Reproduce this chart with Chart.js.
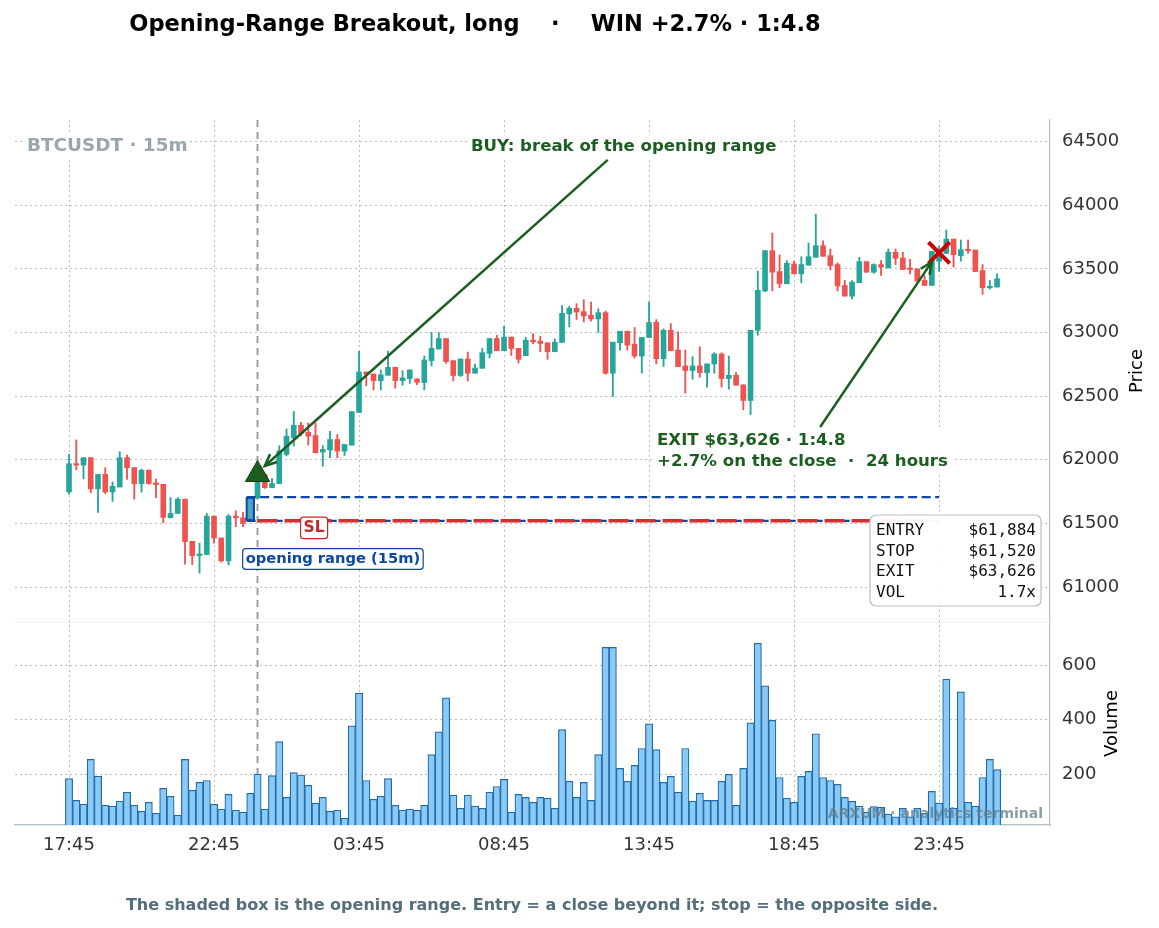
<!DOCTYPE html>
<html>
<head>
<meta charset="utf-8">
<script src="https://cdn.jsdelivr.net/npm/chart.js@4.4.1/dist/chart.umd.min.js"></script>
<style>
  html, body { margin: 0; padding: 0; background: #fff; }
  #wrap { width: 1159px; height: 928px; }
</style>
</head>
<body>
<div id="wrap"><canvas id="chart"></canvas></div>
<script>
// 15m candles, index 0 = 17:45
const opens = [61747,61969,61958,62016,61771,61885,61747,61786,62016,61938,61813,61917,61818,61807,61544,61578,61690,61359,61247,61255,
  61557,61385,61206,61557,61544,61525,61700,61884,61781,61813,62042,62172,62271,62216,62190,62060,62076,62159,62068,62115,
  62372,62690,62674,62622,62664,62727,62622,62638,62635,62607,62779,62870,62953,62779,62662,62792,62680,62719,62836,62953,
  62857,62964,62875,62818,62940,62932,62919,62849,62922,63146,63190,63164,63135,63107,63156,62680,62919,63010,62909,62815,
  62961,63080,62794,63018,62862,62737,62701,62737,62685,62753,62831,62638,62664,62589,62466,63018,63326,63643,63479,63383,
  63539,63461,63529,63591,63682,63604,63534,63370,63286,63391,63557,63474,63534,63508,63630,63586,63505,63500,63409,63370,
  63560,63622,63734,63604,63651,63648,63487,63352,63357];
const highs = [62042,62156,62016,62016,61885,61938,61826,62063,62036,61938,61927,61922,61849,61807,61703,61703,61690,61359,61344,61578,
  61557,61385,61570,61599,61586,61707,61900,61890,61852,62110,62242,62380,62294,62289,62289,62112,62224,62198,62120,62378,
  62852,62690,62674,62706,62854,62727,62700,62706,62635,62815,63000,63000,62953,62779,62792,62846,62750,62875,62953,62979,
  63050,62964,62875,62961,62992,62971,62919,62950,63211,63206,63227,63258,63240,63187,63169,62924,63010,63010,63039,62961,
  63240,63102,63029,63070,63005,62862,62810,62888,62753,62841,62841,62815,62685,62589,63018,63482,63643,63781,63609,63565,
  63560,63596,63703,63930,63721,63656,63547,63409,63409,63591,63557,63540,63565,63656,63656,63630,63576,63500,63448,63638,
  63680,63805,63734,63727,63727,63648,63534,63409,63461];
const lows = [61729,61922,61849,61740,61586,61734,61672,61786,61846,61690,61745,61807,61703,61505,61544,61578,61180,61175,61109,61255,
  61344,61195,61172,61474,61474,61519,61690,61775,61781,61813,62030,62107,62190,62115,62055,61950,62016,62016,62034,62115,
  62372,62581,62549,62549,62664,62562,62586,62600,62590,62549,62737,62870,62758,62620,62655,62620,62680,62719,62800,62857,
  62857,62820,62760,62818,62910,62849,62789,62849,62922,63044,63102,63083,63090,63000,62672,62497,62862,62862,62799,62680,
  62961,62753,62732,62857,62732,62523,62633,62648,62570,62680,62570,62555,62586,62393,62354,62979,63320,63326,63352,63383,
  63461,63391,63529,63591,63599,63492,63326,63286,63263,63391,63474,63465,63448,63508,63534,63495,63461,63404,63370,63370,
  63480,63622,63513,63560,63622,63479,63300,63340,63357];
const closes = [61969,61958,62016,61771,61885,61747,61792,62016,61938,61813,61917,61813,61805,61547,61578,61690,61357,61247,61260,61557,
  61385,61206,61557,61544,61500,61690,61884,61781,61813,62070,62185,62271,62206,62185,62055,62081,62159,62068,62120,62378,
  62690,62672,62622,62667,62727,62622,62643,62706,62609,62784,62875,62953,62771,62662,62792,62680,62721,62841,62953,62857,
  62964,62875,62789,62940,62927,62914,62849,62924,63151,63190,63161,63130,63107,63156,62680,62924,63010,62901,62815,62961,
  63078,62794,63018,62857,62732,62701,62737,62685,62753,62831,62638,62664,62586,62466,63018,63331,63643,63474,63383,63544,
  63461,63534,63596,63682,63599,63526,63365,63286,63396,63557,63474,63534,63513,63630,63583,63495,63495,63404,63370,63638,
  63626,63734,63612,63651,63643,63479,63352,63362,63422];
const volumes = [185,105,91,255,194,87,84,102,135,87,65,98,58,149,120,51,255,142,171,178,
  91,73,127,69,62,131,201,73,196,320,116,207,198,160,95,116,65,69,40,378,
  498,178,109,120,185,87,69,73,69,87,273,356,480,124,76,124,84,76,135,156,
  182,62,127,116,98,116,113,76,364,175,116,171,105,273,665,665,222,175,233,295,
  385,291,171,193,135,295,102,131,105,105,175,200,87,222,389,680,524,398,189,113,
  98,193,211,349,189,178,164,116,102,84,62,82,80,55,45,76,45,76,58,138,
  95,549,76,502,98,84,189,255,218];

const timeTickIdx = [0, 20, 40, 60, 80, 100, 120];
const timeLabels = ['17:45', '22:45', '03:45', '08:45', '13:45', '18:45', '23:45'];
const priceTicks = [61000, 61500, 62000, 62500, 63000, 63500, 64000, 64500];
const volumeTicks = [200, 400, 600];

const orIdx = 25;          // the opening-range candle
const orHigh = 61707;
const orLow = 61519;
const entryIdx = 26;
const entryPrice = 61884;
const stopPrice = 61520;
const exitIdx = 120;
const exitPrice = 63626;

const infoLabels = ['ENTRY', 'STOP', 'EXIT', 'VOL'];
const infoValues = ['$61,884', '$61,520', '$63,626', '1.7x'];

const UP = '#26a69a';
const DOWN = '#ef5350';
const GREEN = '#1b5e20';
const FONT = 'DejaVu Sans';

Chart.defaults.font.family = FONT;

const candleColors = closes.map((c, i) => c >= opens[i] ? UP : DOWN);

function boxText(ctx, lines, cx, cy, o) {
  ctx.font = o.font;
  const lh = o.lineHeight || 0;
  const w = Math.max(...lines.map(t => ctx.measureText(t).width));
  const h = lh * (lines.length - 1) + o.size;
  let left = o.align === 'left' ? cx : cx - w / 2;
  if (o.bg || o.border) {
    const p = o.pad || 3;
    ctx.beginPath();
    ctx.roundRect(left - p, cy - h / 2 - p, w + 2 * p, h + 2 * p, o.radius || 0);
    if (o.bg) { ctx.fillStyle = o.bg; ctx.fill(); }
    if (o.border) { ctx.strokeStyle = o.border; ctx.lineWidth = 1.2; ctx.stroke(); }
  }
  ctx.fillStyle = o.color;
  ctx.textAlign = 'left';
  ctx.textBaseline = 'middle';
  lines.forEach((t, k) => {
    const tw = ctx.measureText(t).width;
    const x = o.align === 'left' ? left : cx - tw / 2;
    ctx.fillText(t, x, cy - h / 2 + o.size / 2 + k * lh);
  });
}

function arrow(ctx, x1, y1, x2, y2, color) {
  ctx.save();
  ctx.strokeStyle = color;
  ctx.lineWidth = 2.5;
  ctx.setLineDash([]);
  ctx.beginPath();
  ctx.moveTo(x1, y1);
  ctx.lineTo(x2, y2);
  ctx.stroke();
  const a = Math.atan2(y2 - y1, x2 - x1), L = 13;
  ctx.beginPath();
  ctx.moveTo(x2 - L * Math.cos(a - 0.42), y2 - L * Math.sin(a - 0.42));
  ctx.lineTo(x2, y2);
  ctx.lineTo(x2 - L * Math.cos(a + 0.42), y2 - L * Math.sin(a + 0.42));
  ctx.stroke();
  ctx.restore();
}

const overlay = {
  id: 'overlay',
  beforeDatasetsDraw(chart) {
    const { ctx, chartArea: a, scales: { x, y } } = chart;
    ctx.save();
    // faint panel separator
    ctx.strokeStyle = '#eceff1';
    ctx.lineWidth = 1;
    ctx.beginPath();
    ctx.moveTo(a.left, y.bottom + 0.5);
    ctx.lineTo(a.right, y.bottom + 0.5);
    ctx.stroke();
    // session start
    const px = x.getPixelForValue(entryIdx);
    ctx.strokeStyle = '#9e9e9e';
    ctx.lineWidth = 2;
    ctx.setLineDash([7, 5]);
    ctx.beginPath();
    ctx.moveTo(px, a.top);
    ctx.lineTo(px, a.bottom);
    ctx.stroke();
    ctx.restore();
  },
  afterDatasetsDraw(chart) {
    const { ctx, chartArea: a, scales: { x, y, y2 } } = chart;
    const X = v => x.getPixelForValue(v);
    const Y = v => y.getPixelForValue(v);
    ctx.save();

    // title + caption
    ctx.fillStyle = '#000';
    ctx.font = `bold 22.5px ${FONT}`;
    ctx.textAlign = 'center';
    ctx.textBaseline = 'middle';
    ctx.fillText('Opening-Range Breakout, long    \u00b7    WIN +2.7% \u00b7 1:4.8', 475, 25);
    ctx.fillStyle = '#546e7a';
    ctx.font = `bold 16px ${FONT}`;
    ctx.fillText('The shaded box is the opening range. Entry = a close beyond it; stop = the opposite side.', 532, 906);

    // axis titles
    ctx.fillStyle = '#000';
    ctx.font = `18px ${FONT}`;
    ctx.save();
    ctx.translate(a.right + 87, (y.top + y.bottom) / 2);
    ctx.rotate(-Math.PI / 2);
    ctx.fillText('Price', 0, 0);
    ctx.restore();
    ctx.save();
    ctx.translate(a.right + 62, (y2.top + y2.bottom) / 2);
    ctx.rotate(-Math.PI / 2);
    ctx.fillText('Volume', 0, 0);
    ctx.restore();

    // symbol tag
    ctx.font = `bold 18.4px ${FONT}`;
    const tag = 'BTCUSDT \u00b7 15m';
    const tw = ctx.measureText(tag).width;
    ctx.fillStyle = '#fff';
    ctx.fillRect(a.left + 10, y.top + 15, tw + 4, 22);
    ctx.textAlign = 'left';
    ctx.fillStyle = '#9aa6ae';
    ctx.fillText(tag, a.left + 12, y.top + 26);

    // watermark
    ctx.textAlign = 'right';
    ctx.fillStyle = 'rgba(96,125,139,0.75)';
    ctx.font = `bold 14px ${FONT}`;
    ctx.fillText('ARXUM \u00b7 analytics terminal', a.right - 7, a.bottom - 11);

    // annotations
    arrow(ctx, X(74.3), Y(64357), X(27.0), Y(61951), GREEN);
    boxText(ctx, ['BUY: break of the opening range'], X(76.5), Y(64459),
      { font: `bold 16.6px ${FONT}`, size: 16.6, color: GREEN, bg: '#fff', pad: 3 });

    arrow(ctx, X(103.6), Y(62258), X(119.0), Y(63555), GREEN);
    boxText(ctx, ['EXIT $63,626 \u00b7 1:4.8', '+2.7% on the close  \u00b7  24 hours'], X(81.1), Y(62065),
      { font: `bold 16.6px ${FONT}`, size: 16.6, lineHeight: 21, color: GREEN, bg: '#fff', pad: 4, align: 'left' });

    boxText(ctx, ['SL'], X(33.8), Y(61464),
      { font: `bold 15.5px ${FONT}`, size: 15.5, color: '#c62828', bg: '#fff', border: '#c62828', pad: 3, radius: 3 });
    boxText(ctx, ['opening range (15m)'], X(36.4), Y(61220),
      { font: `bold 14.7px ${FONT}`, size: 14.7, color: '#0d47a1', bg: '#fff', border: '#0d47a1', pad: 3, radius: 3 });

    // trade summary box
    const bw = 171, bh = 91;
    const bx = a.right - 9 - bw, by = y.bottom - 16 - bh;
    ctx.beginPath();
    ctx.roundRect(bx, by, bw, bh, 6);
    ctx.fillStyle = 'rgba(255,255,255,0.95)';
    ctx.fill();
    ctx.strokeStyle = '#bdbdbd';
    ctx.lineWidth = 1.2;
    ctx.stroke();
    ctx.font = `16px "DejaVu Sans Mono"`;
    ctx.fillStyle = '#111';
    ctx.textBaseline = 'middle';
    infoLabels.forEach((t, k) => {
      const ty = by + 16 + k * 20.5;
      ctx.textAlign = 'left';
      ctx.fillText(t, bx + 6, ty);
      ctx.textAlign = 'right';
      ctx.fillText(infoValues[k], bx + bw - 5, ty);
    });
    ctx.restore();
  }
};

const gridCommon = { color: '#bdbdbd', lineWidth: 1, drawTicks: false, offset: false };
const borderCommon = { color: '#b0bec5', width: 1.2, dash: [2, 3] };
const tickFont = { family: FONT, size: 18 };

new Chart(document.getElementById('chart'), {
  type: 'bar',
  data: {
    datasets: [
      {
        type: 'scatter', label: 'exit',
        data: [{ x: exitIdx, y: exitPrice }],
        pointStyle: 'crossRot', radius: 15, borderColor: '#d00000', borderWidth: 4,
        backgroundColor: '#d00000'
      },
      {
        type: 'scatter', label: 'entry',
        data: [{ x: entryIdx, y: entryPrice }],
        pointStyle: 'triangle', radius: 14, backgroundColor: GREEN, borderColor: '#103d14', borderWidth: 1
      },
      {
        type: 'line', label: 'stop',
        data: [{ x: entryIdx, y: stopPrice }, { x: exitIdx, y: stopPrice }],
        borderColor: '#d32f2f', borderWidth: 3.5, borderDash: [20, 7], pointRadius: 0
      },
      {
        type: 'line', label: 'or high',
        data: [{ x: orIdx - 0.5, y: orHigh }, { x: exitIdx, y: orHigh }],
        borderColor: '#0d47a1', borderWidth: 2.2, borderDash: [9, 4.5], pointRadius: 0
      },
      {
        type: 'line', label: 'or low',
        data: [{ x: orIdx - 0.5, y: orLow }, { x: exitIdx, y: orLow }],
        borderColor: '#0d47a1', borderWidth: 2.2, borderDash: [9, 4.5], pointRadius: 0
      },
      {
        label: 'opening range',
        data: [{ x: orIdx, y: [orLow, orHigh] }],
        backgroundColor: 'rgba(100,170,230,0.55)', borderColor: '#0d47a1', borderWidth: 2,
        barThickness: 9, grouped: false, borderSkipped: false
      },
      {
        label: 'body',
        data: opens.map((o, i) => ({ x: i, y: [o, closes[i]] })),
        backgroundColor: candleColors, borderWidth: 0,
        barThickness: 5, minBarLength: 1.5, grouped: false
      },
      {
        label: 'wick',
        data: lows.map((l, i) => ({ x: i, y: [l, highs[i]] })),
        backgroundColor: candleColors, borderWidth: 0,
        barThickness: 1.2, grouped: false
      },
      {
        label: 'volume', yAxisID: 'y2',
        data: volumes.map((v, i) => ({ x: i, y: v })),
        backgroundColor: '#8ccaf6', borderColor: '#1f6bab', borderWidth: 1.2,
        barPercentage: 1, categoryPercentage: 1, grouped: false, borderSkipped: 'bottom'
      }
    ]
  },
  options: {
    responsive: true,
    maintainAspectRatio: false,
    animation: false,
    events: [],
    layout: { autoPadding: false, padding: { top: 120, left: 15, right: 9, bottom: 61 } },
    plugins: { legend: { display: false }, tooltip: { enabled: false }, title: { display: false } },
    scales: {
      x: {
        type: 'linear', min: -7.45, max: 135.3, offset: false,
        afterBuildTicks: s => { s.ticks = timeTickIdx.map(v => ({ value: v })); },
        afterFit: s => { s.height = 42; },
        ticks: { callback: (v, i) => timeLabels[i], font: tickFont, color: '#333', padding: 10, maxRotation: 0, autoSkip: false },
        grid: gridCommon, border: borderCommon
      },
      y: {
        type: 'linear', position: 'right', stack: 'panels', stackWeight: 502,
        min: 60725, max: 64670,
        afterBuildTicks: s => { s.ticks = priceTicks.map(v => ({ value: v })); },
        afterFit: s => { s.width = 100; },
        ticks: { callback: v => String(v), font: tickFont, color: '#333', padding: 12 },
        grid: gridCommon, border: borderCommon
      },
      y2: {
        type: 'linear', position: 'right', stack: 'panels', stackWeight: 203,
        min: 15, max: 758,
        afterBuildTicks: s => { s.ticks = volumeTicks.map(v => ({ value: v })); },
        afterFit: s => { s.width = 100; },
        ticks: { callback: v => String(v), font: tickFont, color: '#333', padding: 12 },
        grid: gridCommon, border: borderCommon
      }
    }
  },
  plugins: [overlay]
});
</script>
</body>
</html>
